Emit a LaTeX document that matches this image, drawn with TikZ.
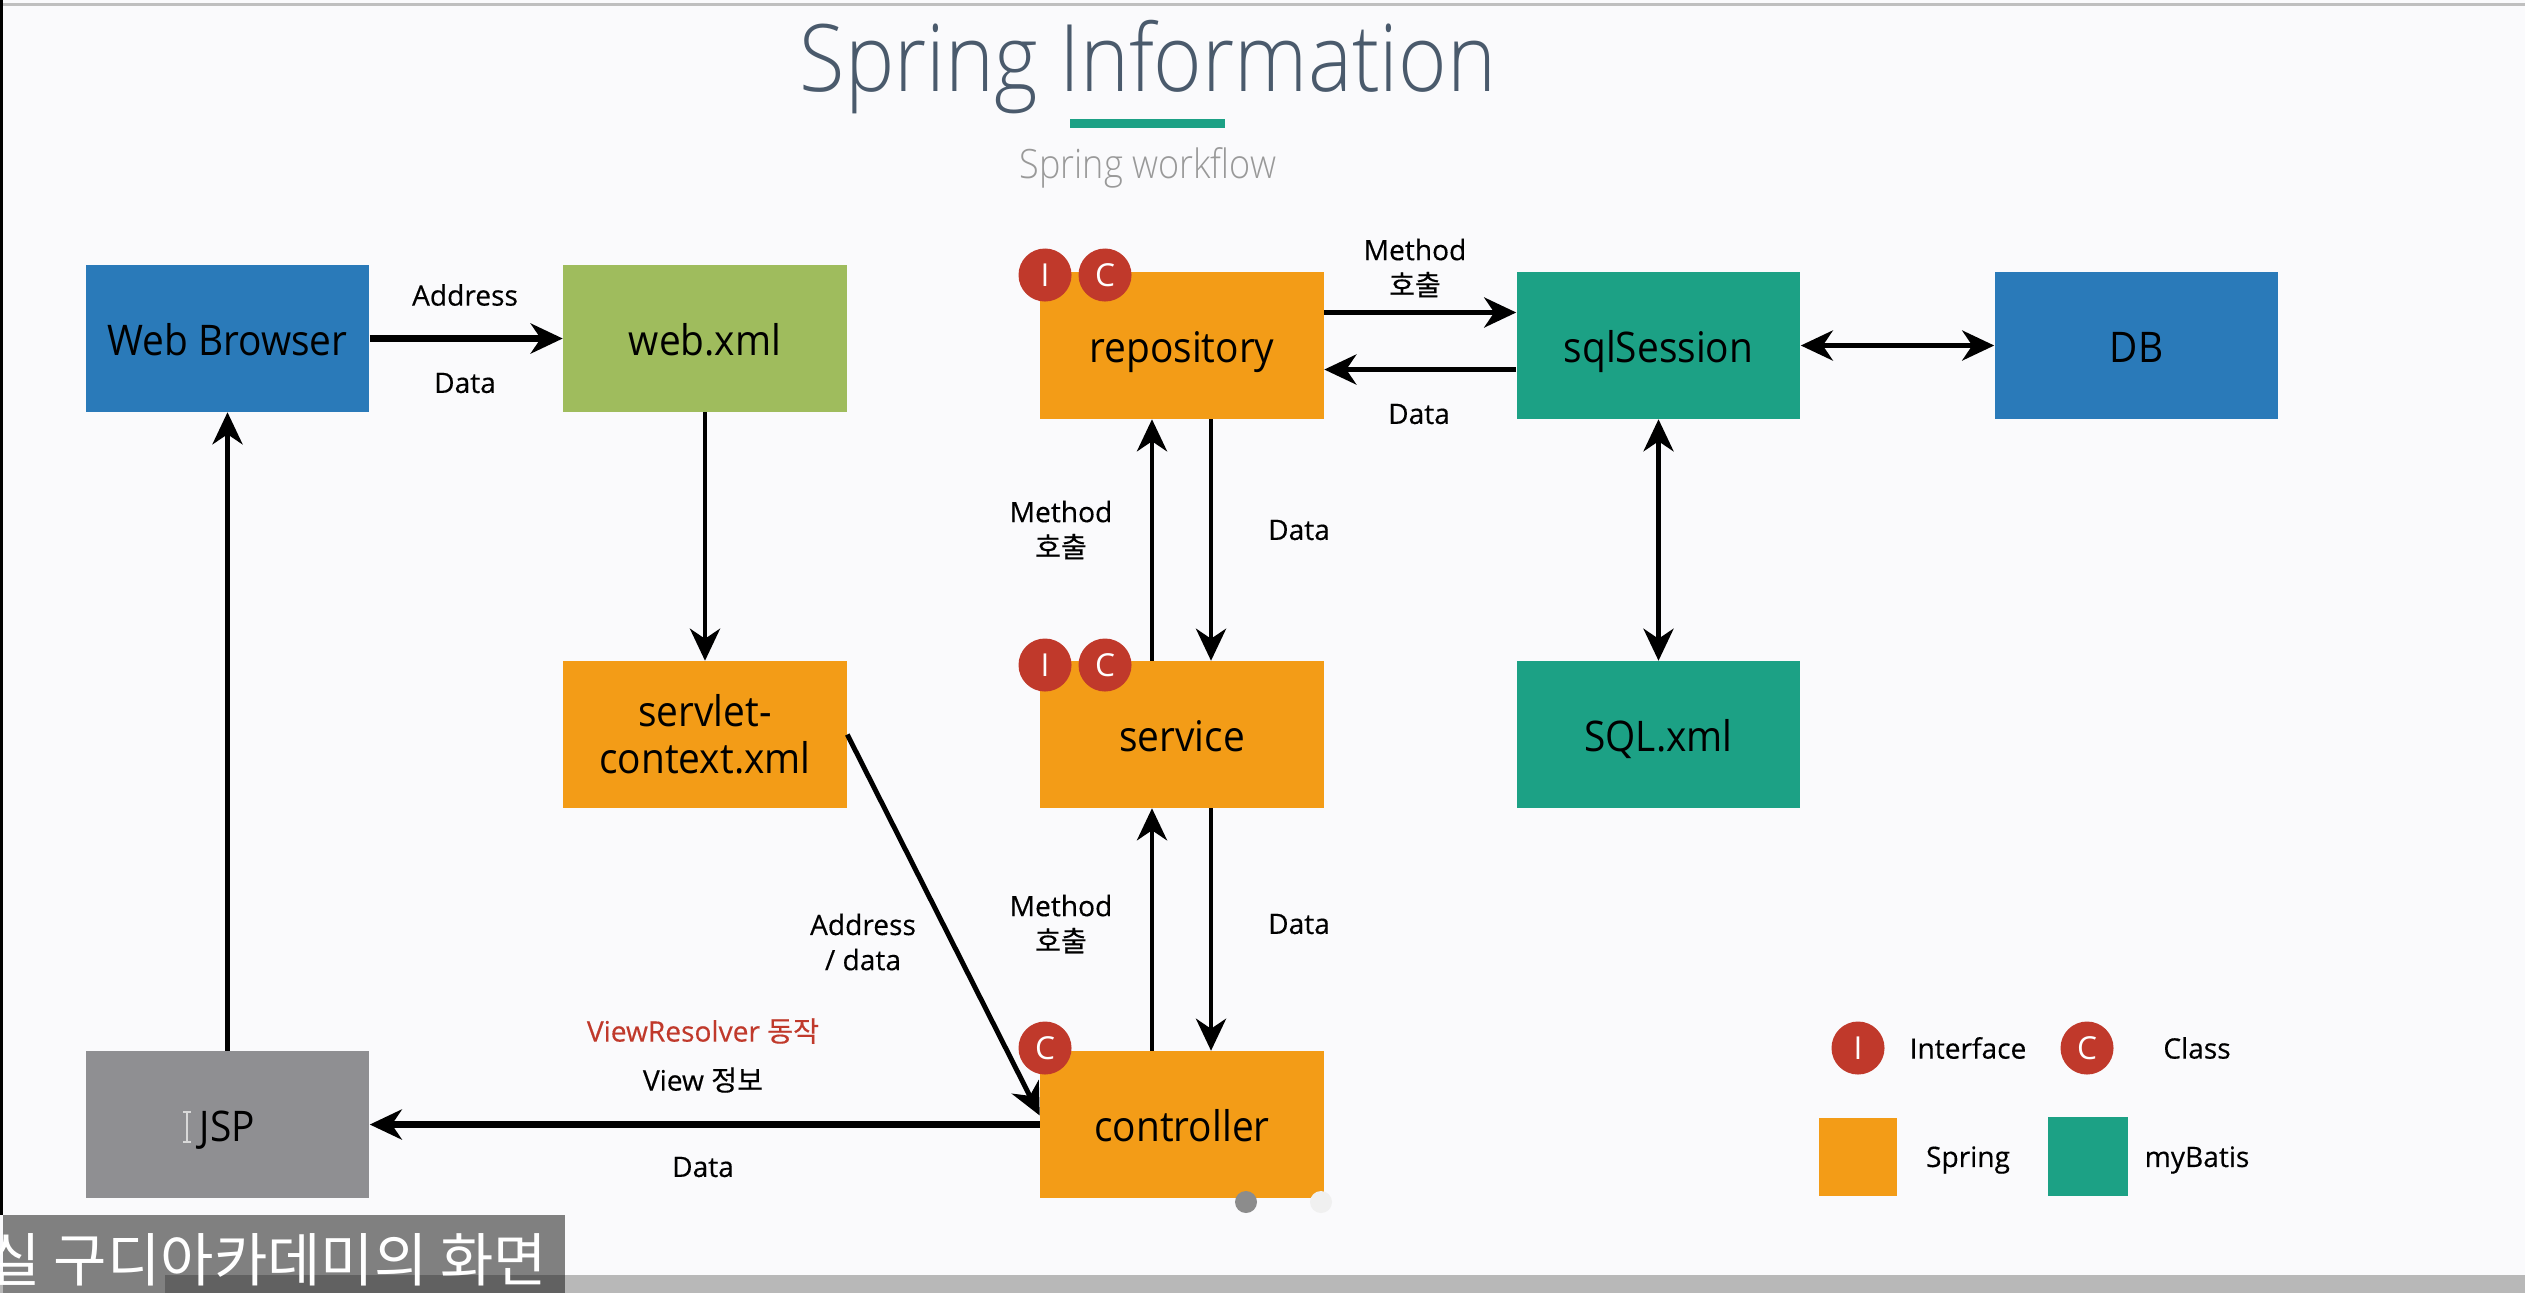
\documentclass[tikz,border=0pt]{standalone}
\usepackage{fontspec}
\setmainfont{Open Sans}
\newfontfamily\krfont[FakeBold=.35]{Noto Sans CJK KR}
\newfontfamily\capfont{Noto Sans CJK KR}
\newfontfamily\titlefont[FakeStretch=.89]{Open Sans Light}
\newfontfamily\boxfont[FakeStretch=.92]{Open Sans}
\newfontfamily\notefont[FakeBold=.35]{Open Sans}
\usetikzlibrary{arrows.meta}
\definecolor{pagebg}{HTML}{FAFAFC}
\definecolor{boxblue}{HTML}{2A7AB9}
\definecolor{boxgreen}{HTML}{9FBC5D}
\definecolor{boxorange}{HTML}{F39C17}
\definecolor{boxteal}{HTML}{1CA185}
\definecolor{boxgray}{HTML}{8F8F92}
\definecolor{badgered}{HTML}{C0392B}
\definecolor{titleink}{HTML}{4A5A6C}
\tikzset{
  blockbox/.style={minimum width=2.83cm, minimum height=1.46cm, inner sep=0pt, align=center, text height=.4cm, text depth=.07cm, font=\boxfont\fontsize{12}{13.3}\selectfont},
  badge/.style={circle, fill=badgered, text=white, minimum size=.53cm, inner sep=0pt, font=\fontsize{9}{10}\selectfont},
  flow/.style={draw=black, line width=1.4pt, -{Stealth[length=.32cm, width=.3cm, inset=.1cm]}},
  twoway/.style={draw=black, line width=1.4pt, {Stealth[length=.32cm, width=.3cm, inset=.1cm]}-{Stealth[length=.32cm, width=.3cm, inset=.1cm]}},
  note/.style={inner sep=0pt, align=center, font=\notefont\fontsize{8}{10}\selectfont},
}
\begin{document}
\begin{tikzpicture}[x=.01cm, y=-.01cm]
	\useasboundingbox (0,0) rectangle (2525,1293);
	\fill[pagebg] (0,0) rectangle (2525,1293);
	\fill[black!25] (0,3) rectangle (2525,6);
	\fill[black] (0,0) rectangle (3,1215);
	\fill[black!28] (0,1275) rectangle (2525,1293);

	% heading
	\node[inner sep=0pt, text=titleink, font=\titlefont\fontsize{26.5}{30}\selectfont] (title) at (1148,67) {Spring Information};
	\fill[boxteal] (1070,119) rectangle (1225,128);
	\node[inner sep=0pt, text=black!40, font=\titlefont\fontsize{11.5}{13}\selectfont] (subtitle) at (1148,168) {Spring workflow};

	% boxes
	\node[blockbox, fill=boxblue] (browser) at (227.5,338.5) {Web Browser};
	\node[blockbox, fill=boxgreen] (webxml) at (705,338.5) {web.xml};
	\node[blockbox, fill=boxorange, text height=, text depth=] (servlet) at (705,734.5) {servlet-\\context.xml};
	\node[blockbox, fill=boxgray] (jsp) at (227.5,1124.5) {JSP};
	\node[blockbox, fill=boxorange] (repository) at (1182,345.5) {repository};
	\node[blockbox, fill=boxorange] (service) at (1182,734.5) {service};
	\node[blockbox, fill=boxorange] (controller) at (1182,1124.5) {controller};
	\node[blockbox, fill=boxteal] (sqlsession) at (1658.5,345.5) {sqlSession};
	\node[blockbox, fill=boxteal] (sqlxml) at (1658.5,734.5) {SQL.xml};
	\node[blockbox, fill=boxblue] (db) at (2136.5,345.5) {DB};

	% text cursor over the JSP box
	\draw[black!15, line width=.5pt] (187,1112) -- (187,1142) (183,1112) -- (191,1112) (183,1142) -- (191,1142);

	% badges
	\node[badge] (repoI) at (1045,275) {I};
	\node[badge] (repoC) at (1105,275) {C};
	\node[badge] (servI) at (1045,665) {I};
	\node[badge] (servC) at (1105,665) {C};
	\node[badge] (ctrlC) at (1045,1048) {C};

	% connectors
	\draw[flow, line width=1.8pt] (browser) -- (webxml);
	\draw[flow] (webxml) -- (servlet);
	\draw[flow] (jsp) -- (browser);
	\draw[flow] (servlet.east) -- ([yshift=.09cm]controller.west);
	\draw[flow, line width=1.8pt] (controller) -- (jsp);
	\draw[flow] ([xshift=-.3cm]service.north) -- ([xshift=-.3cm]repository.south);
	\draw[flow] ([xshift=.29cm]repository.south) -- ([xshift=.29cm]service.north);
	\draw[flow] ([xshift=-.3cm]controller.north) -- ([xshift=-.3cm]service.south);
	\draw[flow] ([xshift=.29cm]service.south) -- ([xshift=.29cm]controller.north);
	\draw[flow] ([yshift=.33cm]repository.east) -- ([yshift=.33cm]sqlsession.west);
	\draw[flow] ([yshift=-.24cm]sqlsession.west) -- ([yshift=-.24cm]repository.east);
	\draw[twoway] (sqlsession) -- (db);
	\draw[twoway] (sqlsession) -- (sqlxml);

	% connector labels
	\node[note] (addr) at (465,295) {Address};
	\node[note] (data1) at (465,383) {Data};
	\node[note] (method1) at (1415,268) {Method\\{\krfont 호출}};
	\node[note] (data2) at (1419,414) {Data};
	\node[note] (method2) at (1061,530) {Method\\{\krfont 호출}};
	\node[note] (data3) at (1299,530) {Data};
	\node[note] (method3) at (1061,924) {Method\\{\krfont 호출}};
	\node[note] (data4) at (1299,924) {Data};
	\node[note] (addrdata) at (863,942) {Address\\/ data};
	\node[note, text=badgered] (resolver) at (703,1031) {ViewResolver {\krfont 동작}};
	\node[note] (viewinfo) at (703,1080) {View {\krfont 정보}};
	\node[note] (data5) at (703,1167) {Data};

	% legend
	\node[badge] (legI) at (1858,1048) {I};
	\node[note] (legItext) at (1968,1048) {Interface};
	\node[badge] (legC) at (2087,1048) {C};
	\node[note] (legCtext) at (2197,1048) {Class};
	\fill[boxorange] (1819,1118) rectangle (1897,1196);
	\node[note] (legS) at (1968,1160) {Spring};
	\fill[boxteal] (2048,1117) rectangle (2128,1196);
	\node[note] (legM) at (2197,1160) {myBatis};

	% slide controls and caption
	\fill[black!45] (1246,1202) circle (11);
	\fill[black!6] (1321,1202) circle (11);
	\fill[black!50] (3,1215) rectangle (565,1293);
	\fill[black!62] (165,1275) rectangle (565,1293);
	\node[anchor=east, inner sep=0pt, text=white, font=\capfont\fontsize{16.5}{18}\selectfont] (caption) at (548,1260) {실 구디아카데미의 화면};
\end{tikzpicture}
\end{document}
